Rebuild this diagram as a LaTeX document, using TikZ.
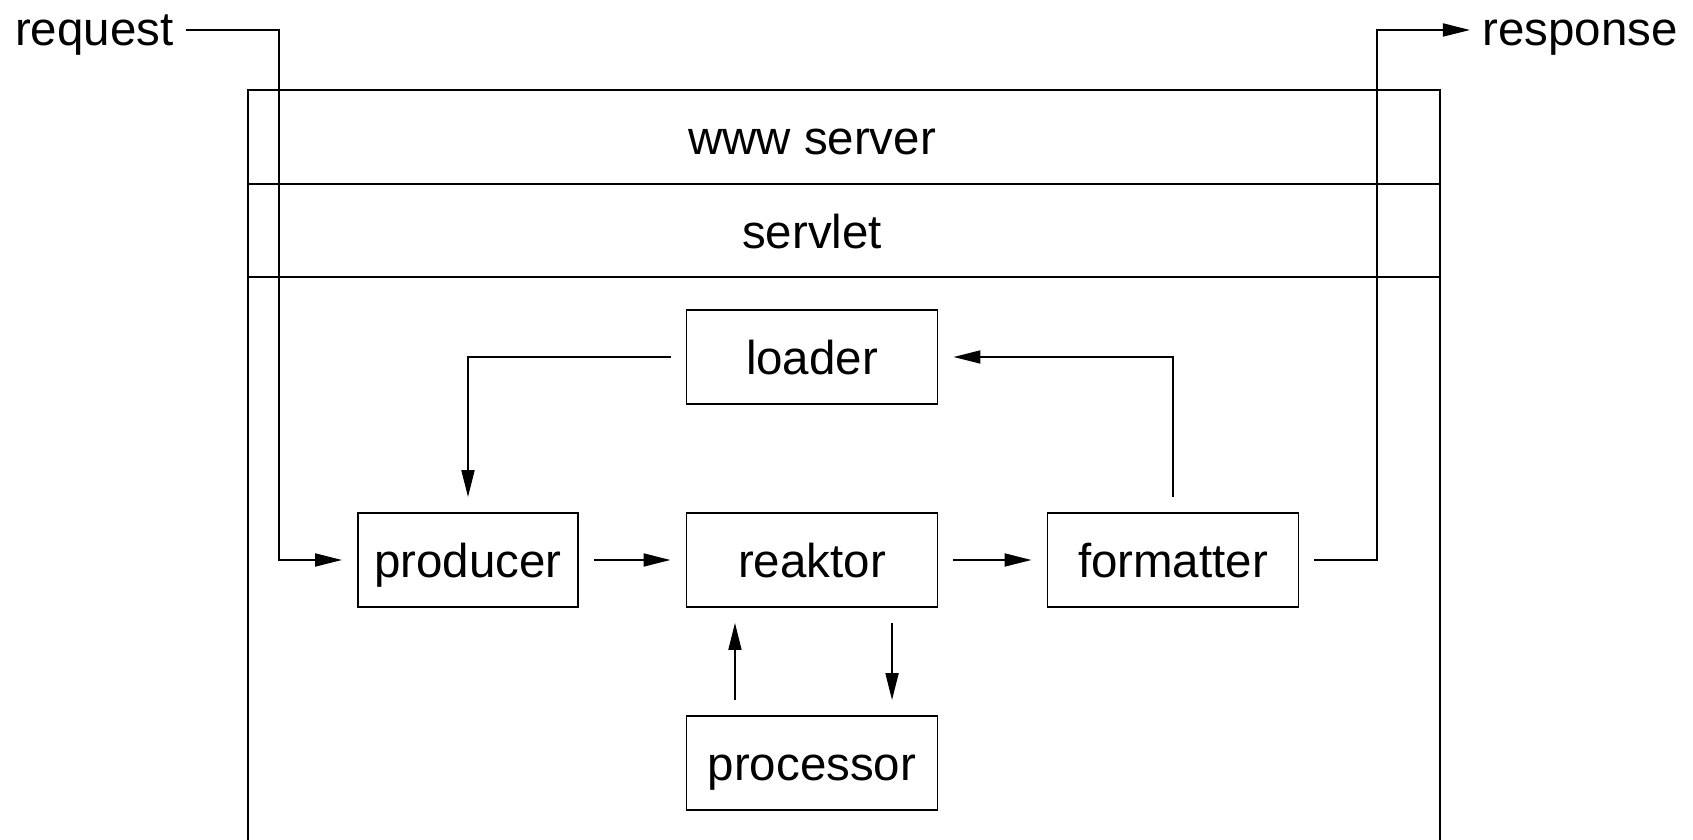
\documentclass[tikz,border=0pt]{standalone}
\usepackage{fontspec}
\setmainfont{Liberation Sans}
\usetikzlibrary{arrows.meta}

\begin{document}
\begin{tikzpicture}[x=0.01cm,y=-0.01cm,line width=0.5pt,
    font=\fontsize{13.5}{16}\selectfont,
    every node/.style={text height=9.8pt,text depth=0pt},
    box/.style={draw,minimum width=2.51cm,minimum height=0.94cm,inner sep=0pt},
    link/.style={draw,-{Triangle[length=0.27cm,width=0.13cm]},shorten <=0.15cm,shorten >=0.15cm}]
    \useasboundingbox (0,0) rectangle (1693,840);
    % server layers
    \path (248,840) -- (248,90) -- (1440,90) [draw] -- (1440,840);
    \path (248,184) [draw] -- (1440,184);
    \path (248,277) [draw] -- (1440,277);
    \path (812,137) node(www) {www server};
    \path (812,231) node(servlet) {servlet};
    % components
    \path (812,357) node(loader)[box] {loader};
    \path (468,560) node(producer)[box,minimum width=2.2cm] {producer};
    \path (812,560) node(reaktor)[box] {reaktor};
    \path (1173,560) node(formatter)[box] {formatter};
    \path (812,763) node(processor)[box] {processor};
    \path (producer) edge[link] (reaktor);
    \path (reaktor) edge[link] (formatter);
    \path (formatter.north) |- (loader.east) [link];
    \path (loader.west) -| (producer.north) [link];
    \path ([xshift=-0.77cm]processor.north) edge[link] ([xshift=-0.77cm]reaktor.south);
    \path ([xshift=0.8cm]reaktor.south) edge[link] ([xshift=0.8cm]processor.north);
    % request and response
    \path (186,30) node(request)[anchor=east,text depth=1.2pt] {request};
    \coordinate (reqdown) at (279,30);
    \path (request.east) -- (reqdown) |- (producer.west) [link,shorten <=0pt];
    \path (1470,30) node(response)[anchor=west,text depth=1.2pt] {response};
    \coordinate (respup) at (1377,30);
    \path (formatter.east) -| (respup) -- (response.west) [link,shorten >=0pt];
\end{tikzpicture}
\end{document}
